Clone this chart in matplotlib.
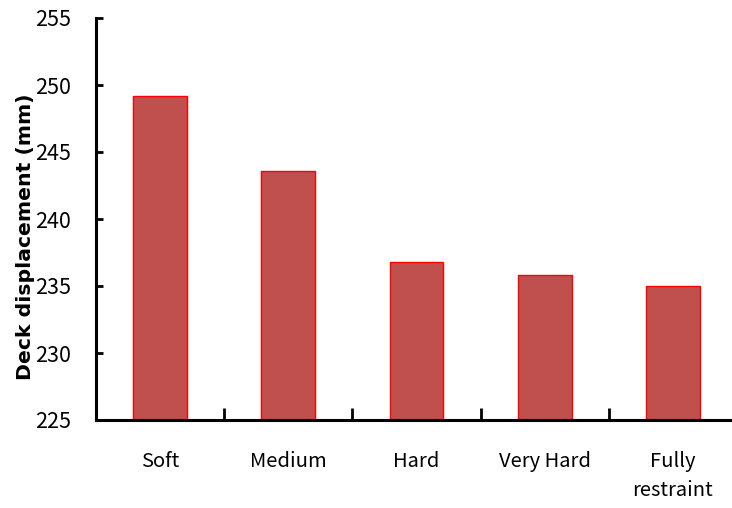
import matplotlib
matplotlib.use("Agg")
import matplotlib.pyplot as plt

categories = ["Soft", "Medium", "Hard", "Very Hard", "Fully\nrestraint"]
displacement = [249.2, 243.6, 236.8, 235.8, 235.0]
y_ticks = [225, 230, 235, 240, 245, 250, 255]

label_font = ["Noto Sans CJK JP", "DejaVu Sans"]

fig = plt.figure(figsize=(7.32, 5.08), dpi=100)
ax = fig.add_axes([96 / 732, 88 / 508, (737 - 96) / 732, (420 - 18) / 508])

x = range(len(categories))
ax.bar(x, displacement, width=0.42, color="#C0504D",
       edgecolor="#FF0000", linewidth=1.0, zorder=2)

ax.set_xlim(-0.5, len(categories) - 0.5)
ax.set_ylim(225, 255)
ax.set_yticks(y_ticks)
# category boundaries carry the tick marks, category centres carry the names
ax.set_xticks([i + 0.5 for i in range(len(categories) - 1)])
ax.set_xticklabels([])
ax.set_xticks(list(x), minor=True)
ax.set_xticklabels(categories, minor=True)

for s in ["top", "right"]:
    ax.spines[s].set_visible(False)
for s in ["left", "bottom"]:
    ax.spines[s].set_linewidth(2.2)

ax.tick_params(axis="y", direction="in", length=5, width=2, labelsize=15.5, pad=18)
ax.tick_params(axis="x", which="major", direction="in", length=9, width=2)
ax.tick_params(axis="x", which="minor", length=0, labelsize=14.5, pad=22)
for lab in ax.get_yticklabels() + ax.get_xticklabels(minor=True):
    lab.set_fontfamily(label_font)
for lab in ax.get_xticklabels(minor=True):
    lab.set_linespacing(1.55)

ax.set_ylabel("Deck displacement (mm)", fontsize=14.7, fontweight="bold",
              family="DejaVu Sans")
ax.yaxis.set_label_coords(-0.095, 0.455)

fig.savefig("out.png", dpi=100)
